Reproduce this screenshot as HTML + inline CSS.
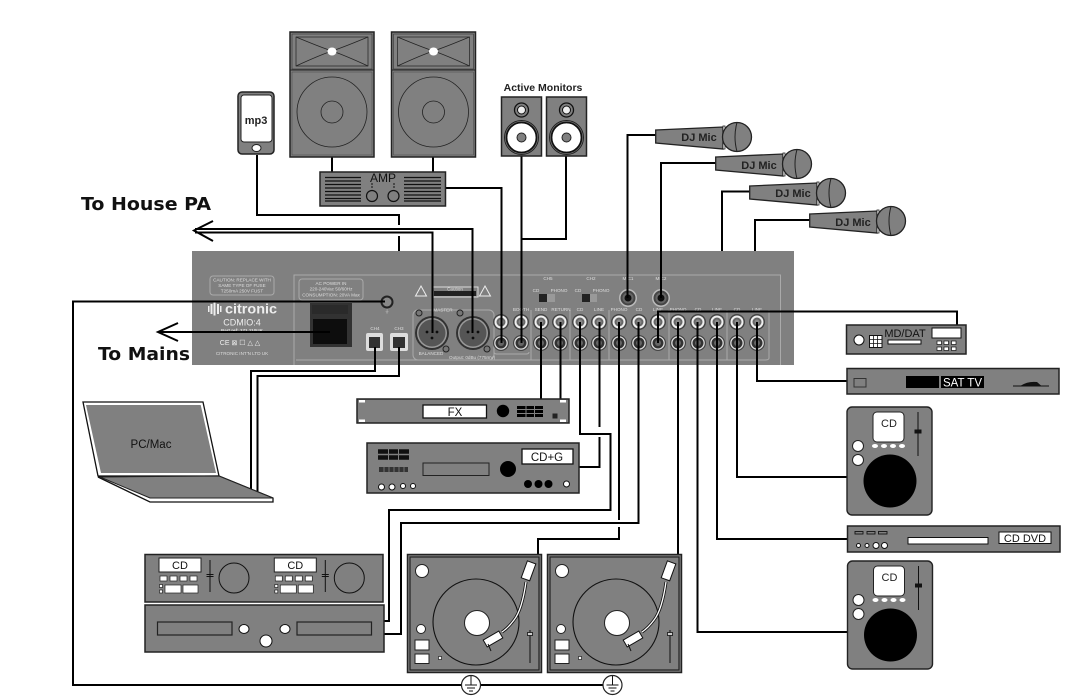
<!DOCTYPE html>
<html>
<head>
<meta charset="utf-8">
<style>
html,body{margin:0;padding:0;background:#fff;width:1092px;height:700px;overflow:hidden}
svg{display:block;filter:blur(.35px)}
text{font-family:"Liberation Sans",sans-serif;text-anchor:middle}
.w{fill:none;stroke:#000;stroke-width:2}
.g{fill:#808080;stroke:#222;stroke-width:1.5}
.p{fill:#ddd;font-size:4.6px}
.l{fill:none;stroke:#aaa;stroke-width:1}
</style>
</head>
<body>
<svg width="1092" height="700" viewBox="0 0 1092 700" xmlns="http://www.w3.org/2000/svg">
<defs>
<filter id="b"><feGaussianBlur stdDeviation="0.35"/></filter>
<g id="spk">
  <rect x="290" y="32" width="84" height="125" fill="#808080" stroke="#222" stroke-width="1.500"/>
  <rect x="292" y="34" width="80" height="35" fill="none" stroke="#333" stroke-width=".6"/>
  <rect x="296" y="37" width="72" height="29" fill="none" stroke="#222" stroke-width=".7"/>
  <path d="M296 37Q320 47 332 51Q344 47 368 37M296 66Q320 55 332 51Q344 55 368 66" fill="none" stroke="#222" stroke-width=".7"/>
  <ellipse cx="332" cy="51.500" rx="4.500" ry="4" fill="#fff"/>
  <line x1="290" y1="70" x2="374" y2="70" stroke="#222"/>
  <rect x="292" y="72" width="80" height="83" fill="none" stroke="#444" stroke-width=".5"/>
  <circle cx="332" cy="112" r="35" fill="none" stroke="#222" stroke-width=".8"/>
  <circle cx="332" cy="112" r="11" fill="none" stroke="#222" stroke-width=".8"/>
</g>
<g id="mon">
  <rect x="501.500" y="97" width="40" height="59" fill="#808080" stroke="#222" stroke-width="1.500"/>
  <circle cx="521.500" cy="110" r="7" fill="#808080" stroke="#111" stroke-width="1.300"/>
  <circle cx="521.500" cy="110" r="4" fill="#eee" stroke="#111"/>
  <circle cx="521.500" cy="137.500" r="17" fill="#808080" stroke="#222"/>
  <circle cx="521.500" cy="137.500" r="15" fill="#fff" stroke="#111" stroke-width="1.800"/>
  <circle cx="521.500" cy="137.500" r="4.500" fill="#808080" stroke="#222"/>
</g>
<g id="mic">
  <path d="M655.700 130L723 127L723 149L655.700 143Z" fill="#808080" stroke="#222" stroke-width="1.300"/>
  <rect x="723" y="126" width="2" height="23" fill="#fff" stroke="#222" stroke-width=".8"/>
  <circle cx="737" cy="137" r="14.500" fill="#808080" stroke="#222" stroke-width="1.300"/>
  <path d="M737 122.500Q733 137 737 151.500" fill="none" stroke="#222"/>
</g>
<g id="cdj">
  <rect x="847" y="407" width="85" height="108" rx="5" fill="#808080" stroke="#222" stroke-width="1.400"/>
  <rect x="873" y="412" width="31" height="30" rx="4" fill="#fff" stroke="#222"/>
  <g fill="#fff"><ellipse cx="875" cy="446" rx="3" ry="2"/><ellipse cx="884" cy="446" rx="3" ry="2"/><ellipse cx="893" cy="446" rx="3" ry="2"/><ellipse cx="902" cy="446" rx="3" ry="2"/></g>
  <line x1="918" y1="412" x2="918" y2="456" stroke="#111"/>
  <rect x="914.500" y="429.500" width="7" height="4" fill="#111"/>
  <circle cx="858" cy="446" r="5.500" fill="#fff" stroke="#222"/>
  <circle cx="858" cy="460" r="5.500" fill="#fff" stroke="#222"/>
  <circle cx="890" cy="481" r="26.500" fill="#000"/>
</g>
<g id="tt">
  <rect x="407.500" y="554.500" width="134" height="118" fill="#808080" stroke="#222" stroke-width="1.500"/>
  <rect x="410" y="557" width="129" height="113" fill="none" stroke="#222" stroke-width="1.200"/>
  <circle cx="476" cy="622" r="43" fill="none" stroke="#111" stroke-width="1.100"/>
  <circle cx="477" cy="623" r="12.500" fill="#fff" stroke="#222"/>
  <circle cx="422" cy="571" r="6.500" fill="#fff" stroke="#222"/>
  <circle cx="421" cy="629" r="4.500" fill="#fff" stroke="#222"/>
  <rect x="415" y="640" width="14" height="10" fill="#fff" stroke="#222"/>
  <rect x="415" y="654" width="14" height="9.500" fill="#fff" stroke="#222"/>
  <rect x="438.500" y="656.500" width="3" height="3" fill="#fff" stroke="#222" stroke-width=".7"/>
  <line x1="530" y1="630" x2="530" y2="663" stroke="#111"/>
  <rect x="527.500" y="632.500" width="5" height="3" fill="#ccc" stroke="#111" stroke-width=".8"/>
  <path d="M526 582Q522 610 514 620Q508 628 502 632" fill="none" stroke="#111" stroke-width="3"/>
  <path d="M526 582Q522 610 514 620Q508 628 502 632" fill="none" stroke="#fff" stroke-width="1.300"/>
  <rect x="524" y="562" width="9" height="18" transform="rotate(20 529 571)" fill="#fff" stroke="#111"/>
  <rect x="484" y="635" width="18" height="8" transform="rotate(-30 493 639)" fill="#fff" stroke="#111"/>
  <line x1="488" y1="644" x2="491" y2="651" stroke="#111"/>
</g>
<g id="rt"><circle r="8" fill="#444"/><circle r="6.500" fill="#eee"/><circle r="4.500" fill="#666"/><circle r="2.500" fill="#888"/></g>
<g id="rb"><circle r="8" fill="#444"/><circle r="6.800" fill="#ddd"/><circle r="5.500" fill="#333"/><circle r="3" fill="#666"/></g>
<g id="gnd">
  <circle r="9.500" fill="#fff" stroke="#222" stroke-width="1.200"/>
  <path d="M0 -9V0M-6 0H6M-4 3H4M-2 6H2" stroke="#111" stroke-width="1" fill="none"/>
</g>
<g id="xlr">
  <circle r="17" fill="#333"/><circle r="15" fill="#999"/><circle r="13.500" fill="#555"/>
  <circle cx="-5" cy="-1" r="1.400" fill="#111"/><circle cx="5" cy="-1" r="1.400" fill="#111"/><circle cy="5" r="1.400" fill="#111"/>
</g>
<g id="cdpair">
  <rect x="159" y="558" width="42" height="14" fill="#fff" stroke="#222"/>
  <g fill="#fff" stroke="#222" stroke-width=".7"><rect x="160" y="576" width="7" height="5"/><rect x="170" y="576" width="7" height="5"/><rect x="180" y="576" width="7" height="5"/><rect x="190" y="576" width="7" height="5"/><rect x="159.500" y="584.500" width="3" height="3"/><rect x="159.500" y="590" width="3" height="3"/><rect x="165" y="585" width="16" height="8"/><rect x="183" y="585" width="15" height="8"/></g>
  <line x1="210" y1="560" x2="210" y2="592" stroke="#111"/>
  <line x1="206.500" y1="574.500" x2="213.500" y2="574.500" stroke="#111"/><line x1="206.500" y1="576.500" x2="213.500" y2="576.500" stroke="#111"/>
  <circle cx="234" cy="578" r="15" fill="none" stroke="#111"/>
</g>
</defs>

<rect width="1092" height="700" fill="#fff"/>

<!-- Mixer panel -->
<rect x="192" y="251" width="602" height="114" fill="#808080"/>
<g filter="url(#b)">
  <path d="M294 365V275H780.500V365" class="l"/>
  <rect x="210" y="276" width="64" height="19" rx="3" class="l"/>
  <text x="242" y="281.500" class="p">CAUTION: REPLACE WITH</text>
  <text x="242" y="287" class="p">SAME TYPE OF FUSE</text>
  <text x="242" y="292.500" class="p">T250mA 250V FUST</text>
  <g fill="#eee"><rect x="208" y="306" width="1.500" height="6"/><rect x="210.500" y="304" width="2" height="10"/><rect x="213.500" y="302.500" width="2" height="13"/><rect x="217" y="304" width="2" height="10"/><rect x="220" y="306" width="1.500" height="6"/></g>
  <text x="251" y="313.500" fill="#eee" font-size="13.500" font-weight="bold" textLength="52" lengthAdjust="spacingAndGlyphs">citronic</text>
  <text x="242" y="325.500" fill="#eee" font-size="9">CDMIO:4</text>
  <text x="242" y="332" class="p" font-weight="bold">Part ref: 171.110UK</text>
  <text x="240" y="345" fill="#eee" font-size="7">CE ⊠ ☐ △ △</text>
  <text x="242" y="355" class="p">CITRONIC INT'N LTD UK</text>
  <rect x="299" y="279" width="64" height="21" rx="3" class="l"/>
  <text x="331" y="285" class="p">AC POWER IN</text>
  <text x="331" y="290.500" class="p">220-240Vac 50/60Hz</text>
  <text x="331" y="296.500" class="p">CONSUMPTION: 20VA Max</text>
  <rect x="310" y="303" width="42" height="44" fill="#333"/>
  <rect x="312" y="305" width="36" height="9" fill="#292929"/>
  <rect x="313" y="319" width="34" height="25" fill="#111"/>
  <rect x="366" y="333" width="17" height="18" rx="2" fill="#ddd"/><rect x="369" y="337" width="11" height="11" fill="#333"/>
  <rect x="390" y="333" width="18" height="18" rx="2" fill="#ddd"/><rect x="393" y="337" width="12" height="11" fill="#333"/>
  <text x="375" y="330" class="p">CH4</text><text x="399" y="330" class="p">CH3</text>
  <circle cx="387" cy="302" r="6.500" fill="#222"/><circle cx="387" cy="302" r="4.500" fill="#888"/>
  <text x="387" y="313" class="p">⏚</text>
  <rect x="413" y="310" width="81" height="50" rx="5" class="l"/>
  <text x="443" y="311.500" class="p">MASTER</text>
  <text x="431" y="355" class="p">BALANCED</text>
  <text x="472" y="359" class="p">Output: 0dBu (775mV)</text>
  <use href="#xlr" x="432" y="333"/>
  <use href="#xlr" x="473" y="333"/>
  <g fill="#777" stroke="#222"><circle cx="419" cy="313" r="3"/><circle cx="446" cy="349" r="3"/><circle cx="460" cy="313" r="3"/><circle cx="487" cy="349" r="3"/></g>
  <path d="M421 286l5.500 10h-11zM485 286l5.500 10h-11z" fill="none" stroke="#eee"/>
  <rect x="432" y="287" width="46" height="10" fill="none" stroke="#ddd"/>
  <rect x="434" y="291" width="42" height="5" fill="#222"/>
  <text x="455" y="290.500" class="p">Caution</text>
  <use href="#rt" x="501" y="322"/><use href="#rt" x="521" y="322"/>
  <use href="#rb" x="501" y="343"/><use href="#rb" x="521" y="343"/>
  <use href="#rt" x="541" y="322"/><use href="#rt" x="560" y="322"/><use href="#rt" x="580" y="322"/><use href="#rt" x="599" y="322"/><use href="#rt" x="619" y="322"/><use href="#rt" x="639" y="322"/><use href="#rt" x="658" y="322"/><use href="#rt" x="678" y="322"/><use href="#rt" x="698" y="322"/><use href="#rt" x="717" y="322"/><use href="#rt" x="737" y="322"/><use href="#rt" x="757" y="322"/>
  <use href="#rb" x="541" y="343"/><use href="#rb" x="560" y="343"/><use href="#rb" x="580" y="343"/><use href="#rb" x="599" y="343"/><use href="#rb" x="619" y="343"/><use href="#rb" x="639" y="343"/><use href="#rb" x="658" y="343"/><use href="#rb" x="678" y="343"/><use href="#rb" x="698" y="343"/><use href="#rb" x="717" y="343"/><use href="#rb" x="737" y="343"/><use href="#rb" x="757" y="343"/>
  <path d="M494 352Q494 354 497 354H526Q529 354 529 352M531 310V360M570 310V360M609 310V360M669 310V360M727 310V360" class="l"/>
  <path d="M769 310V358Q769 360 765 360H296" class="l"/>
  <text x="521" y="311" class="p">BOOTH</text><text x="541" y="311" class="p">SEND</text><text x="561" y="311" class="p">RETURN</text><text x="580" y="311" class="p">CD</text><text x="599" y="311" class="p">LINE</text><text x="619" y="311" class="p">PHONO</text><text x="639" y="311" class="p">CD</text><text x="658" y="311" class="p">LINE</text><text x="678" y="311" class="p">PHONO</text><text x="698" y="311" class="p">CD</text><text x="717" y="311" class="p">LINE</text><text x="737" y="311" class="p">CD</text><text x="757" y="311" class="p">LINE</text>
  <text x="548" y="280" class="p">CH5</text><text x="591" y="280" class="p">CH2</text><text x="628" y="280" class="p">MIC1</text><text x="661" y="280" class="p">MIC2</text>
  <text x="536" y="292" class="p">CD</text><text x="559" y="292" class="p">PHONO</text><text x="578" y="292" class="p">CD</text><text x="601" y="292" class="p">PHONO</text>
  <rect x="539" y="294" width="16" height="8" fill="#999"/><rect x="539" y="294" width="8" height="8" fill="#222"/>
  <rect x="582" y="294" width="15" height="8" fill="#999"/><rect x="582" y="294" width="8" height="8" fill="#222"/>
  <circle cx="628" cy="298" r="9" fill="#bbb"/><circle cx="628" cy="298" r="7.500" fill="#444"/><circle cx="628" cy="298" r="5.500" fill="#666"/><circle cx="628" cy="298" r="3.500" fill="#111"/>
  <circle cx="661" cy="298" r="9" fill="#bbb"/><circle cx="661" cy="298" r="7.500" fill="#444"/><circle cx="661" cy="298" r="5.500" fill="#666"/><circle cx="661" cy="298" r="3.500" fill="#111"/>
</g>

<!-- Wires -->
<g class="w">
  <path d="M257 155V215H399V225M399 236V251"/>
  <path d="M472.500 333V229H195"/>
  <path d="M432.500 333V232.500H195"/>
  <path d="M213 221L194 230.500L213 241"/>
  <path d="M178 323L158 332L178 341"/>
  <path d="M158 332H330"/>
  <path d="M332 157V172M433 157V172"/>
  <path d="M446 188H501.500V343"/>
  <path d="M521.500 156V343"/>
  <path d="M566 156V239H521.500"/>
  <path d="M656 135H627.500V298"/>
  <path d="M716 163H661V298"/>
  <path d="M750 191.500H722V251"/>
  <path d="M811 220H755V251"/>
  <path d="M385 301.500H73V685H603"/>
  <path d="M375 347V371H251V491"/>
  <path d="M399 347V376H257.500V494"/>
  <path d="M541 322V399M560.500 322V399"/>
  <path d="M580 322V434H610.500V510H389V621H384"/>
  <path d="M599.500 322V427M599.500 437V467H579"/>
  <path d="M619 322V520M619 527V539H538V554"/>
  <path d="M638.500 322V523H401V634H384"/>
  <path d="M678 322V554"/>
  <path d="M697.500 322V632H847"/>
  <path d="M717 322V539H847"/>
  <path d="M737 322V477H847"/>
  <path d="M757 322V381H847"/>
  <path d="M658 343V311.500H957V325"/>
</g>

<!-- mp3 -->
<rect x="238" y="92" width="36" height="62" rx="4" class="g"/>
<rect x="241" y="95" width="31" height="47" rx="3" fill="#fff" stroke="#222"/>
<ellipse cx="256.500" cy="148" rx="4.500" ry="3.500" fill="#fff" stroke="#222"/>
<text x="256" y="124" font-size="11" font-weight="bold" fill="#222">mp3</text>

<!-- Speakers -->
<use href="#spk"/>
<use href="#spk" x="101.500"/>

<!-- AMP -->
<rect x="320" y="172" width="125.500" height="34" class="g"/>
<path d="M325 177.500H361M325 181H361M325 184.500H361M325 188H361M325 191.500H361M325 195H361M325 198.500H361M325 201H361M404 177.500H441M404 181H441M404 184.500H441M404 188H441M404 191.500H441M404 195H441M404 198.500H441M404 201H441" stroke="#111" stroke-width="1.300"/>
<text x="383" y="182" font-size="12" fill="#111">AMP</text>
<circle cx="372" cy="196" r="5.500" fill="#808080" stroke="#111" stroke-width="1.200"/>
<circle cx="393.500" cy="196" r="5.500" fill="#808080" stroke="#111" stroke-width="1.200"/>
<path d="M371 184H373M371 187H373M393 184H395M393 187H395" stroke="#111"/>

<!-- Active monitors -->
<text x="543" y="91" font-size="10.500" font-weight="bold" fill="#222">Active Monitors</text>
<use href="#mon"/>
<use href="#mon" x="45"/>

<!-- Mics -->
<use href="#mic"/>
<use href="#mic" x="60" y="27"/>
<use href="#mic" x="94" y="56"/>
<use href="#mic" x="154" y="84"/>
<g font-size="11" font-weight="bold" fill="#222">
  <text x="699" y="141">DJ Mic</text>
  <text x="759" y="169">DJ Mic</text>
  <text x="793" y="197">DJ Mic</text>
  <text x="853" y="226">DJ Mic</text>
</g>

<!-- Labels -->
<text x="146" y="210" font-size="17.500" font-weight="bold" textLength="130" lengthAdjust="spacingAndGlyphs" style="font-family:'DejaVu Sans',sans-serif" fill="#111">To House PA</text>
<text x="144" y="360" font-size="17.500" font-weight="bold" textLength="92" lengthAdjust="spacingAndGlyphs" style="font-family:'DejaVu Sans',sans-serif" fill="#111">To Mains</text>

<!-- Laptop -->
<path d="M83 402H203L219 476H98Z" fill="#fff" stroke="#111" stroke-width="1.300"/>
<path d="M86 405H200.700L216 473H101Z" fill="#808080"/>
<path d="M98 477L219 476L273 498V502H150Z" fill="#fff" stroke="#111" stroke-width="1.300"/>
<path d="M100 477L219 476L273 498H150Z" fill="#808080" stroke="#222"/>
<text x="151" y="448" font-size="11.500" fill="#111">PC/Mac</text>

<!-- FX -->
<rect x="357" y="399" width="212" height="24" class="g"/>
<g fill="#fff"><rect x="359" y="400" width="6" height="2.500"/><rect x="359" y="419.500" width="6" height="2.500"/><rect x="560" y="400" width="6" height="2.500"/><rect x="560" y="419.500" width="6" height="2.500"/></g>
<rect x="423" y="405" width="63.500" height="13" fill="#fff" stroke="#111" stroke-width="1.300"/>
<text x="455" y="416" font-size="11.500" fill="#111">FX</text>
<circle cx="503" cy="411" r="6.200" fill="#000"/>
<path d="M517 407.500H543M517 411.500H543M517 415.500H543" stroke="#000" stroke-width="3"/>
<path d="M526 405V418M534.500 405V418" stroke="#808080"/>
<rect x="552.500" y="413.500" width="5" height="5" fill="#222"/>

<!-- CD+G -->
<rect x="367" y="443" width="212" height="50" class="g"/>
<rect x="522" y="449" width="51" height="15" fill="#fff" stroke="#111" stroke-width="1.300"/>
<text x="547" y="461" font-size="11.500" fill="#111">CD+G</text>
<path d="M378 451.500H409M378 457.500H409" stroke="#111" stroke-width="4.500"/>
<path d="M388.500 449V460M398.500 449V460" stroke="#808080"/>
<rect x="379" y="467" width="29" height="5" fill="#333"/>
<path d="M384 467V472M389 467V472M394 467V472M399 467V472M404 467V472" stroke="#808080" stroke-width=".8"/>
<rect x="423" y="463" width="66" height="12.500" fill="none" stroke="#222" stroke-width="1"/>
<circle cx="508" cy="469" r="8" fill="#000"/>
<g fill="#fff" stroke="#111"><circle cx="381.500" cy="487" r="3"/><circle cx="392" cy="487" r="3"/><circle cx="403" cy="486" r="2.500"/><circle cx="413" cy="486" r="2.500"/><circle cx="566.500" cy="484" r="3"/></g>
<g fill="#000"><circle cx="528" cy="484" r="4"/><circle cx="538.500" cy="484" r="4"/><circle cx="548.500" cy="484" r="4"/></g>

<!-- Dual CD -->
<rect x="145" y="554.500" width="238" height="47.500" class="g"/>
<use href="#cdpair"/><use href="#cdpair" x="115.300"/>
<g font-size="11" fill="#111"><text x="180" y="569">CD</text><text x="295.300" y="569">CD</text></g>
<rect x="145" y="605" width="239" height="47" class="g"/>
<rect x="157.500" y="622" width="74.500" height="13" fill="none" stroke="#222" stroke-width="1.200"/>
<rect x="297" y="622" width="74.500" height="13" fill="none" stroke="#222" stroke-width="1.200"/>
<g fill="#fff" stroke="#111"><ellipse cx="244" cy="629" rx="5" ry="4.500"/><ellipse cx="285" cy="629" rx="5" ry="4.500"/><circle cx="266" cy="641" r="6"/></g>

<!-- Turntables -->
<use href="#tt"/><use href="#tt" x="140"/>
<use href="#gnd" x="471" y="685"/><use href="#gnd" x="612.500" y="685"/>

<!-- MD/DAT -->
<rect x="846.500" y="325" width="119.500" height="29" class="g"/>
<circle cx="859" cy="340" r="5" fill="#fff" stroke="#111"/>
<rect x="869.500" y="335.500" width="12.500" height="12" fill="#fff" stroke="#111"/>
<path d="M873.500 335.500V347.500M877.500 335.500V347.500M869.500 339.500H882M869.500 343.500H882" stroke="#111" stroke-width=".8"/>
<text x="905" y="337" font-size="11" fill="#111">MD/DAT</text>
<rect x="888" y="340" width="33" height="4" fill="#fff" stroke="#111"/>
<rect x="932" y="328" width="29" height="10" fill="#fff" stroke="#111"/>
<g fill="#fff" stroke="#111" stroke-width=".7"><rect x="937" y="341" width="4.500" height="3.500"/><rect x="944" y="341" width="4.500" height="3.500"/><rect x="951.500" y="341" width="4.500" height="3.500"/><rect x="937" y="347" width="4.500" height="3.500"/><rect x="944" y="347" width="4.500" height="3.500"/><rect x="951.500" y="347" width="4.500" height="3.500"/></g>

<!-- SAT TV -->
<rect x="847" y="368.500" width="212" height="25.500" class="g"/>
<rect x="854" y="378.500" width="12" height="8.500" fill="none" stroke="#333"/>
<rect x="906" y="376" width="33" height="12" fill="#000"/>
<rect x="941" y="376" width="43" height="12" fill="#000"/>
<text x="962.500" y="386.500" font-size="11.500" fill="#fff">SAT TV</text>
<path d="M1013 385.500H1021Q1028 381 1037 382L1041 385.500H1049V386.500H1013Z" fill="#111"/>

<!-- CD players -->
<use href="#cdj"/>
<use href="#cdj" x=".5" y="154"/>
<g font-size="11" fill="#222"><text x="889" y="427">CD</text><text x="889.500" y="581">CD</text></g>

<!-- CD DVD -->
<rect x="847.500" y="526" width="212.500" height="26" class="g"/>
<g fill="none" stroke="#111" stroke-width=".9"><rect x="855" y="531.500" width="8" height="2.500"/><rect x="867" y="531.500" width="8" height="2.500"/><rect x="878.500" y="531.500" width="8.500" height="2.500"/></g>
<g fill="#fff" stroke="#111"><circle cx="858.500" cy="545.500" r="2"/><circle cx="867" cy="545.500" r="2"/><circle cx="876" cy="545.500" r="3"/><circle cx="884.500" cy="545.500" r="3"/></g>
<rect x="908" y="537.500" width="80" height="6.500" fill="#fff" stroke="#111"/>
<rect x="999" y="532" width="52" height="11.500" fill="#fff" stroke="#111"/>
<text x="1025" y="542" font-size="11" fill="#111">CD DVD</text>
</svg>
</body>
</html>
